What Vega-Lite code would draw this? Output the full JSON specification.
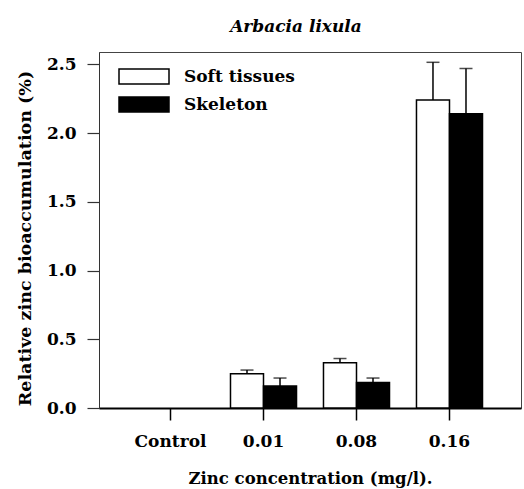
{
  "$schema": "https://vega.github.io/schema/vega-lite/v6.json",
  "autosize": "none",
  "width": 422,
  "height": 356,
  "padding": {"left": 99, "top": 52, "right": 3, "bottom": 81},
  "background": "white",
  "title": {
    "text": "Arbacia lixula",
    "font": "DejaVu Serif",
    "fontSize": 17,
    "fontWeight": "bold",
    "fontStyle": "italic",
    "color": "black",
    "offset": 16,
    "dx": -14
  },
  "config": {
    "view": {"stroke": "#444", "strokeWidth": 1},
    "axis": {
      "labelFont": "DejaVu Serif",
      "labelFontWeight": "bold",
      "labelFontSize": 17,
      "labelColor": "black",
      "titleFont": "DejaVu Serif",
      "titleFontWeight": "bold",
      "titleFontSize": 16.5,
      "titleColor": "black",
      "domainColor": "black",
      "tickColor": "black",
      "grid": false
    },
    "legend": {
      "labelFont": "DejaVu Serif",
      "labelFontWeight": "bold",
      "labelFontSize": 17,
      "labelColor": "black"
    }
  },
  "data": {
    "values": [
      {"conc": "Control", "tissue": "Soft tissues", "value": 0, "upper": null},
      {"conc": "Control", "tissue": "Skeleton", "value": 0, "upper": null},
      {"conc": "0.01", "tissue": "Soft tissues", "value": 0.25, "upper": 0.276},
      {"conc": "0.01", "tissue": "Skeleton", "value": 0.16, "upper": 0.218},
      {"conc": "0.08", "tissue": "Soft tissues", "value": 0.33, "upper": 0.36},
      {"conc": "0.08", "tissue": "Skeleton", "value": 0.185, "upper": 0.218},
      {"conc": "0.16", "tissue": "Soft tissues", "value": 2.24, "upper": 2.515},
      {"conc": "0.16", "tissue": "Skeleton", "value": 2.14, "upper": 2.47}
    ]
  },
  "encoding": {
    "x": {
      "field": "conc",
      "type": "nominal",
      "scale": {"domain": ["Control", "0.01", "0.08", "0.16"], "paddingInner": 0.29, "paddingOuter": 0.414},
      "axis": {
        "title": "Zinc concentration (mg/l).",
        "labelAngle": 0,
        "tickSize": 12,
        "domainWidth": 2,
        "tickWidth": 1.5,
        "labelPadding": 13,
        "titlePadding": 21
      }
    },
    "xOffset": {
      "field": "tissue",
      "type": "nominal",
      "scale": {"domain": ["Soft tissues", "Skeleton"], "paddingInner": 0, "paddingOuter": 0}
    }
  },
  "layer": [
    {
      "transform": [{"filter": "datum.value > 0"}],
      "mark": {"type": "bar", "stroke": "black", "strokeWidth": 1.5},
      "encoding": {
        "y": {
          "field": "value",
          "type": "quantitative",
          "scale": {"domain": [0, 2.59], "nice": false},
          "axis": {
            "title": "Relative zinc bioaccumulation (%)",
            "titleFontSize": 17.5,
            "titleY": 186,
            "values": [0, 0.5, 1, 1.5, 2, 2.5],
            "format": ".1f",
            "tickSize": 12,
            "tickWidth": 1.2,
            "domainColor": "#333",
            "tickColor": "#333",
            "labelPadding": 11,
            "titlePadding": 12
          }
        },
        "color": {
          "field": "tissue",
          "type": "nominal",
          "scale": {"domain": ["Soft tissues", "Skeleton"], "range": ["white", "black"]},
          "legend": {
            "title": null,
            "orient": "none",
            "legendX": 19,
            "legendY": 11,
            "symbolType": "M-1,-0.6H3V0.6H-1Z",
            "symbolSize": 625,
            "symbolStrokeColor": "black",
            "symbolStrokeWidth": 1.5,
            "symbolOpacity": 1,
            "labelOffset": 39,
            "rowPadding": 4
          }
        }
      }
    },
    {
      "transform": [{"filter": "datum.upper != null"}],
      "mark": {"type": "rule", "color": "black", "strokeWidth": 1.5},
      "encoding": {
        "y": {"field": "value", "type": "quantitative"},
        "y2": {"field": "upper"}
      }
    },
    {
      "transform": [{"filter": "datum.upper != null"}],
      "mark": {"type": "tick", "color": "black", "size": 13, "thickness": 1.5, "orient": "horizontal"},
      "encoding": {
        "y": {"field": "upper", "type": "quantitative"}
      }
    }
  ]
}
